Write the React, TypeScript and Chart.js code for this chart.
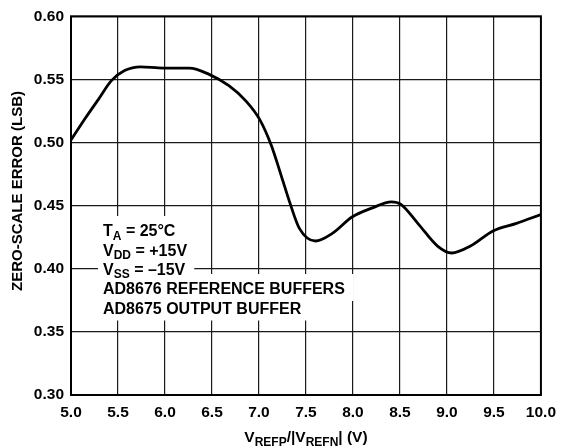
import React, { useEffect, useRef } from "react";
import { Chart, registerables } from "chart.js";

Chart.register(...registerables);

const supplyVoltage = [5.0, 5.15, 5.29, 5.43, 5.57, 5.74, 5.98, 6.26, 6.47, 6.68, 6.86, 7.01, 7.13, 7.24, 7.33, 7.43, 7.6, 7.78, 7.99, 8.2, 8.41, 8.51, 8.69, 8.9, 9.05, 9.25, 9.49, 9.74, 10.0];
const zeroScaleError = [0.502, 0.519, 0.534, 0.549, 0.557, 0.56, 0.559, 0.559, 0.554, 0.545, 0.533, 0.518, 0.498, 0.473, 0.452, 0.432, 0.422, 0.428, 0.441, 0.448, 0.453, 0.451, 0.436, 0.418, 0.4125, 0.418, 0.43, 0.436, 0.443];

const xTickValues = [5.0, 5.5, 6.0, 6.5, 7.0, 7.5, 8.0, 8.5, 9.0, 9.5, 10.0];
const yTickValues = [0.3, 0.35, 0.4, 0.45, 0.5, 0.55, 0.6];

const yTitle = "ZERO-SCALE ERROR (LSB)";
// segments: [text, isSubscript]
const xTitleParts: [string, boolean][] = [["V", false], ["REFP", true], ["/|V", false], ["REFN", true], ["| (V)", false]];
const noteLines: [string, boolean][][] = [
  [["T", false], ["A", true], [" = 25°C", false]],
  [["V", false], ["DD", true], [" = +15V", false]],
  [["V", false], ["SS", true], [" = –15V", false]],
  [["AD8676 REFERENCE BUFFERS", false]],
  [["AD8675 OUTPUT BUFFER", false]],
];

const FONT = '"Liberation Sans", Arial, Helvetica, sans-serif';

function partsWidth(ctx: CanvasRenderingContext2D, parts: [string, boolean][], big: number, small: number) {
  let w = 0;
  for (const [t, sub] of parts) {
    ctx.font = `bold ${sub ? small : big}px ${FONT}`;
    w += ctx.measureText(t).width;
  }
  return w;
}

function drawParts(ctx: CanvasRenderingContext2D, parts: [string, boolean][], x: number, y: number, big: number, small: number, subOff: number) {
  let cx = x;
  ctx.textAlign = "left";
  ctx.textBaseline = "alphabetic";
  for (const [t, sub] of parts) {
    ctx.font = `bold ${sub ? small : big}px ${FONT}`;
    ctx.fillText(t, cx, sub ? y + subOff : y);
    cx += ctx.measureText(t).width;
  }
}

const overlay = {
  id: "overlay",
  afterDraw(chart: any) {
    const { ctx, chartArea } = chart;
    const xs = chart.scales.x;
    ctx.save();
    // frame
    ctx.strokeStyle = "#000";
    ctx.lineWidth = 2;
    ctx.strokeRect(chartArea.left, chartArea.top, chartArea.right - chartArea.left, chartArea.bottom - chartArea.top);

    // annotation block
    const left = xs.getPixelForValue(5.0) + 32;
    const baselines = [236, 255.5, 274.5, 294, 313.5];
    const big = 16;
    const small = 12;
    noteLines.forEach((parts, i) => {
      const w = partsWidth(ctx, parts, big, small);
      ctx.fillStyle = "#fff";
      ctx.fillRect(left - 5, baselines[i] - 20, w + 14, 27);
    });
    ctx.fillStyle = "#000";
    noteLines.forEach((parts, i) => {
      drawParts(ctx, parts, left, baselines[i], big, small, 3.5);
    });

    // x title
    const xw = partsWidth(ctx, xTitleParts, 15.5, 12);
    const cx = (chartArea.left + chartArea.right) / 2;
    drawParts(ctx, xTitleParts, cx - xw / 2, 442, 15.5, 12, 4);

    // y title
    ctx.save();
    ctx.translate(22, 191);
    ctx.rotate(-Math.PI / 2);
    ctx.font = `bold 15px ${FONT}`;
    ctx.textAlign = "center";
    ctx.textBaseline = "alphabetic";
    ctx.fillText(yTitle, 0, 0);
    ctx.restore();
    ctx.restore();
  },
};

export default function App() {
  const ref = useRef<HTMLCanvasElement>(null);
  useEffect(() => {
    if (!ref.current) return;
    const chart = new Chart(ref.current, {
      type: "line",
      data: {
        datasets: [
          {
            data: supplyVoltage.map((x, i) => ({ x, y: zeroScaleError[i] })),
            borderColor: "#000",
            borderWidth: 2.8,
            pointRadius: 0,
            cubicInterpolationMode: "monotone",
            fill: false,
          },
        ],
      },
      options: {
        animation: false,
        responsive: true,
        maintainAspectRatio: false,
        layout: { padding: { left: 0, top: 13, right: 15, bottom: 0 } },
        plugins: { legend: { display: false }, tooltip: { enabled: false } },
        scales: {
          x: {
            type: "linear",
            min: 5,
            max: 10,
            afterFit: (s: any) => { s.height = 53; },
            afterBuildTicks: (s: any) => { s.ticks = xTickValues.map((v) => ({ value: v })); },
            grid: { color: "#1a1a1a", lineWidth: 1.2, drawTicks: false },
            border: { display: false },
            ticks: {
              padding: 8,
              color: "#000",
              font: { family: FONT, size: 15.5, weight: "bold" },
              callback: (v: any) => Number(v).toFixed(1),
              maxRotation: 0,
            },
          },
          y: {
            type: "linear",
            min: 0.3,
            max: 0.6,
            afterFit: (s: any) => { s.width = 71; },
            afterBuildTicks: (s: any) => { s.ticks = yTickValues.map((v) => ({ value: v })); },
            grid: { color: "#1a1a1a", lineWidth: 1.2, drawTicks: false },
            border: { display: false },
            ticks: {
              padding: 7,
              color: "#000",
              font: { family: FONT, size: 15.5, weight: "bold" },
              callback: (v: any) => Number(v).toFixed(2),
            },
          },
        },
      },
      plugins: [overlay],
    } as any);
    return () => chart.destroy();
  }, []);
  return (
    <div style={{ position: "absolute", left: 0, top: 0, width: 564, height: 448, background: "#fff" }}>
      <canvas ref={ref} />
    </div>
  );
}
